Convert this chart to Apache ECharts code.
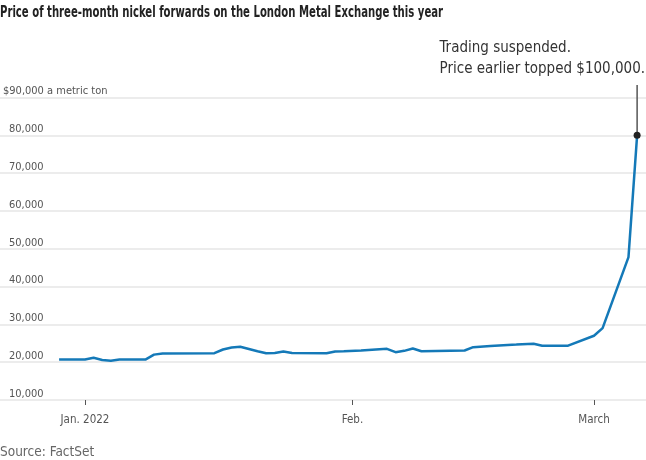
<!DOCTYPE html>
<html>
<head>
<meta charset="utf-8">
<script src="https://cdn.jsdelivr.net/npm/echarts@6/dist/echarts.min.js"></script>
<style>html,body{margin:0;padding:0;background:#fff;}#c{width:646px;height:460px;}</style>
</head>
<body>
<div id="c"></div>
<script>
// Days relative to the "Jan. 2022" tick (0)
const days = [-3, 0, 1, 2, 3, 4, 7, 8, 9, 15, 16, 17, 18, 19, 20, 21, 22, 23, 24, 28, 29, 30, 32, 35, 36, 37, 38, 39, 44, 45, 47, 50, 52, 53, 56, 59, 60, 63, 64];
const prices = [20700, 20700, 21150, 20600, 20400, 20700, 20700, 22000, 22300, 22380, 23350, 23880, 24070, 23500, 22900, 22380, 22450, 22800, 22450, 22380, 22830, 22900, 23100, 23530, 22650, 23000, 23620, 22900, 23100, 23970, 24300, 24650, 24900, 24370, 24370, 27000, 29000, 47800, 80000];
const tickDays = [0, 31, 59];
const tickLabels = ['Jan. 2022', 'Feb.', 'March'];
const annotationTop = 93300;
const titleText = 'Price of three-month nickel forwards on the London Metal Exchange this year';
const annotationText = 'Trading suspended.\nPrice earlier topped $100,000.';
const sourceText = 'Source: FactSet';

const FONT = '"DejaVu Sans Condensed", "Roboto Condensed", "Liberation Sans Narrow", Roboto, sans-serif';

const lastDay = days[days.length - 1];
const lastPrice = prices[prices.length - 1];

const seriesData = days.map((d, i) => {
  const item = { value: [d, prices[i]] };
  if (i === days.length - 1) {
    item.symbol = 'circle';
    item.symbolSize = 7;
    item.itemStyle = { color: '#222', borderWidth: 0 };
  }
  return item;
});

const chart = echarts.init(document.getElementById('c'), null, { renderer: 'canvas' });
chart.setOption({
  animation: false,
  backgroundColor: '#fff',
  graphic: [
    {
      type: 'text', x: 0, y: 5, scaleX: 0.725,
      style: { text: titleText, fontFamily: FONT, fontWeight: 'bold', fontSize: 15.5, fill: '#222' }
    },
    {
      type: 'text', right: 1, top: 38,
      style: { text: annotationText, fontFamily: FONT, fontSize: 15, lineHeight: 21, fill: '#333', align: 'right' }
    },
    {
      type: 'text', left: 0, top: 445,
      style: { text: sourceText, fontFamily: FONT, fontSize: 13.5, fill: '#666' }
    }
  ],
  grid: { left: 0, right: 0, top: 97.5, bottom: 60, containLabel: false },
  xAxis: {
    type: 'value',
    min: -9.85, max: 65.03,
    axisLine: { show: false },
    splitLine: { show: false },
    axisTick: { show: true, customValues: tickDays, length: 5, lineStyle: { color: '#555', width: 1 } },
    axisLabel: {
      customValues: tickDays,
      margin: 14,
      fontFamily: FONT, fontSize: 11.5, color: '#555',
      formatter: v => tickLabels[tickDays.indexOf(v)]
    }
  },
  yAxis: {
    type: 'value',
    min: 10000, max: 90000, interval: 10000,
    axisLine: { show: false },
    axisTick: { show: false },
    splitLine: { show: true, lineStyle: { color: '#e6e6e6', width: 1.5 } },
    axisLabel: {
      inside: true,
      margin: 3,
      verticalAlign: 'bottom',
      lineHeight: 12,
      padding: 0,
      fontFamily: FONT, fontSize: 11, color: '#555',
      formatter: v => v === 90000 ? '$90,000 a metric ton' : '{s|}' + v.toLocaleString('en-US'),
      rich: { s: { width: 6 } }
    }
  },
  series: [
    {
      type: 'line',
      data: [[lastDay, lastPrice], [lastDay, annotationTop]],
      symbol: 'none',
      clip: false,
      silent: true,
      lineStyle: { color: '#555', width: 1.5 },
      z: 2
    },
    {
      type: 'line',
      data: seriesData,
      symbol: 'none',
      showSymbol: true,
      clip: false,
      lineStyle: { color: '#1479b8', width: 2.5 },
      itemStyle: { color: '#1479b8' },
      z: 3
    }
  ]
});
</script>
</body>
</html>
